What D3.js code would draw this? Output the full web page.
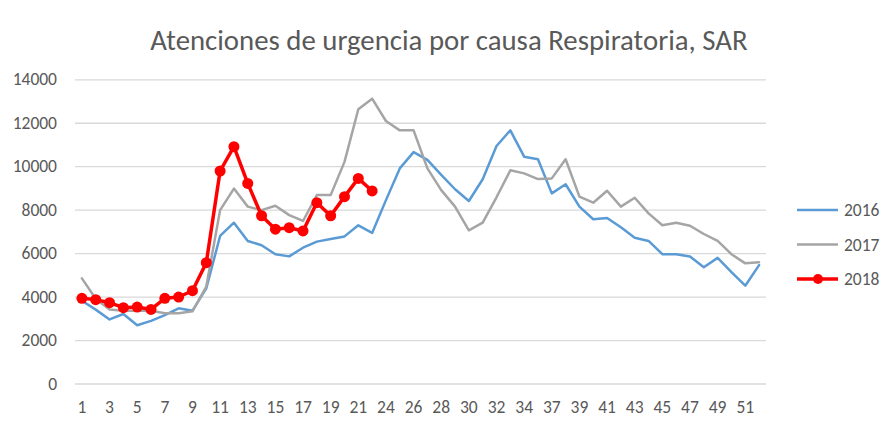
<!DOCTYPE html>
<html>
<head>
<meta charset="utf-8">
<script src="https://cdn.jsdelivr.net/npm/d3@7"></script>
<style>
  body { margin: 0; background: #fff; }
  svg { font-family: Carlito, "Liberation Sans Narrow", "Open Sans", sans-serif; }
</style>
</head>
<body>
<svg width="894" height="426"></svg>
<script>
// week numbers on the category axis (two weeks are missing in the source)
const weeks = [1,2,3,4,5,6,7,8,9,10,11,12,13,14,15,16,17,18,19,20,21,22,
  24,25,26,27,28,29,30,31,32,33,34,35,37,38,39,40,41,42,43,44,45,46,47,48,49,50,51,52];

const y2016 = [3810,3400,2950,3200,2680,2880,3150,3460,3350,4380,6790,7400,6560,6360,5950,5850,
  6250,6530,6650,6770,7280,6930,8440,9900,10650,10290,9600,8940,8400,9400,10930,11650,10440,10320,
  8750,9170,8140,7560,7620,7190,6710,6560,5950,5950,5840,5350,5780,5130,4500,5450];

const y2017 = [4840,3900,3410,3350,3350,3350,3230,3230,3320,4460,7980,8970,8140,7980,8180,7750,
  7480,8670,8670,10200,12620,13110,12080,11650,11650,9900,8900,8140,7050,7400,8570,9810,9670,9410,
  9440,10320,8600,8320,8870,8140,8550,7830,7280,7400,7260,6880,6560,5950,5530,5580];

const y2018 = [3920,3860,3720,3490,3520,3410,3920,3980,4270,5560,9780,10900,9210,7720,7100,7170,
  7020,8320,7720,8600,9440,8860];

const yTicks = [0,2000,4000,6000,8000,10000,12000,14000];

const series = [
  {name: "2016", values: y2016, color: "#5B9BD5", width: 2.5, dots: false},
  {name: "2017", values: y2017, color: "#A5A5A5", width: 2.5, dots: false},
  {name: "2018", values: y2018, color: "#FF0000", width: 3.5, dots: true}
];

const svg = d3.select("svg");
const plotLeft = 75, plotRight = 766, plotTop = 79.3, plotBottom = 383.5;
const font = "Carlito, 'Liberation Sans Narrow', 'Open Sans', sans-serif";

const x = d3.scaleBand()
  .domain(d3.range(weeks.length))
  .range([plotLeft, plotRight]);

const y = d3.scaleLinear()
  .domain([0, 14000])
  .range([plotBottom, plotTop]);

const cx = i => x(i) + x.bandwidth() / 2;

// title
svg.append("text")
  .attr("x", 449)
  .attr("y", 50)
  .attr("text-anchor", "middle")
  .attr("fill", "#595959")
  .style("font-size", "28.8px")
  .text("Atenciones de urgencia por causa Respiratoria, SAR");

// gridlines + y labels
const yAxis = svg.append("g")
  .attr("transform", `translate(${plotLeft},0)`)
  .call(d3.axisLeft(y).tickValues(yTicks).tickSize(-(plotRight - plotLeft)).tickPadding(18).tickFormat(d3.format("d")));
yAxis.select(".domain").remove();
yAxis.selectAll(".tick line").attr("stroke", "#D9D9D9").attr("stroke-width", 1.3);
yAxis.selectAll(".tick text").attr("fill", "#595959").style("font-size", "17.5px").style("font-family", font);

// x labels, every other category
const xAxis = svg.append("g")
  .attr("transform", `translate(0,${plotBottom})`)
  .call(d3.axisBottom(x)
    .tickValues(d3.range(0, weeks.length, 2))
    .tickSize(0).tickPadding(17)
    .tickFormat(i => weeks[i]));
xAxis.select(".domain").remove();
xAxis.selectAll(".tick text").attr("fill", "#595959").style("font-size", "17.5px").style("font-family", font);

// lines
const line = d3.line()
  .x((d, i) => cx(i))
  .y(d => y(d));

series.forEach(s => {
  svg.append("path")
    .datum(s.values)
    .attr("fill", "none")
    .attr("stroke", s.color)
    .attr("stroke-width", s.width)
    .attr("stroke-linejoin", "round")
    .attr("stroke-linecap", "round")
    .attr("d", line);
  if (s.dots) {
    svg.selectAll(null)
      .data(s.values)
      .enter().append("circle")
      .attr("cx", (d, i) => cx(i))
      .attr("cy", d => y(d))
      .attr("r", 5.5)
      .attr("fill", s.color);
  }
});

// legend
const legend = svg.append("g");
series.forEach((s, i) => {
  const ly = 210 + i * 34.5;
  const g = legend.append("g").attr("transform", `translate(0,${ly})`);
  g.append("line")
    .attr("x1", 797).attr("x2", 838)
    .attr("stroke", s.color)
    .attr("stroke-width", s.width);
  if (s.dots) g.append("circle").attr("cx", 818).attr("r", 5).attr("fill", s.color);
  g.append("text")
    .attr("x", 844)
    .attr("dy", "0.35em")
    .attr("fill", "#595959")
    .style("font-size", "17.5px")
    .text(s.name);
});
</script>
</body>
</html>
